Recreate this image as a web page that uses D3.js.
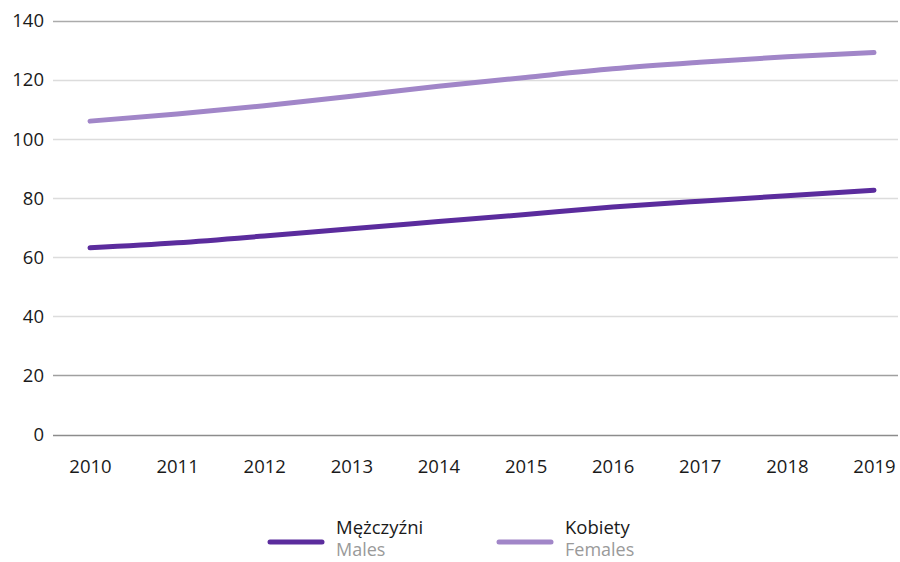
<!DOCTYPE html>
<html>
<head>
<meta charset="utf-8">
<script src="https://cdn.jsdelivr.net/npm/d3@7"></script>
<style>
  html, body { margin: 0; padding: 0; background: #fff; }
  svg { display: block; font-family: "Open Sans", "Noto Sans", sans-serif; }
</style>
</head>
<body>
<svg id="chart" width="900" height="562"></svg>
<script>
const years = ["2010","2011","2012","2013","2014","2015","2016","2017","2018","2019"];
const males = [63.2, 64.9, 67.2, 69.7, 72.1, 74.5, 77.0, 79.0, 80.8, 82.7];
const females = [106.1, 108.5, 111.3, 114.5, 117.9, 120.9, 123.8, 126.0, 127.9, 129.3];
const yTicks = [0, 20, 40, 60, 80, 100, 120, 140];
const seriesNames = ["Mężczyźni", "Kobiety"];
const seriesNamesEn = ["Males", "Females"];
const colors = ["#5b2c9d", "#a186c8"];

const svg = d3.select("#chart");
const x = d3.scalePoint().domain(years).range([90, 874]);
const y = d3.scaleLinear().domain([0, 140]).range([434.5, 21]);
const gridLeft = 53, gridRight = 898;

const gridColor = v => v === 140 ? "#ababab" : v === 20 ? "#a0a0a0" : v === 0 ? "#8c8c8c" : "#dcdcdc";

// gridlines
svg.append("g").selectAll("line").data(yTicks).join("line")
  .attr("x1", gridLeft).attr("x2", gridRight)
  .attr("y1", d => Math.round(y(d)) + 0.5).attr("y2", d => Math.round(y(d)) + 0.5)
  .attr("stroke", d => gridColor(d)).attr("stroke-width", d => d === 0 ? 1.5 : 1.3);

// y axis labels
const yAxis = d3.axisLeft(y).tickValues(yTicks).tickSize(0).tickPadding(0);
const gy = svg.append("g").attr("transform", "translate(44,0)").call(yAxis);
gy.select(".domain").remove();
gy.selectAll("text").attr("font-size", 18.5).attr("fill", "#1a1a1a")
  .attr("font-family", "'Open Sans', sans-serif");

// x axis labels
const xAxis = d3.axisBottom(x).tickSize(0).tickPadding(0);
const gx = svg.append("g").attr("transform", "translate(0,460)").call(xAxis);
gx.select(".domain").remove();
gx.selectAll("text").attr("font-size", 18.5).attr("fill", "#1a1a1a")
  .attr("font-family", "'Open Sans', sans-serif");

// lines
const line = d3.line().x((d, i) => x(years[i])).y(d => y(d)).curve(d3.curveMonotoneX);
[females, males].forEach((data, k) => {
  const idx = k === 0 ? 1 : 0;
  svg.append("path").datum(data)
    .attr("d", line)
    .attr("fill", "none")
    .attr("stroke", colors[idx])
    .attr("stroke-width", 5)
    .attr("stroke-linecap", "round")
    .attr("stroke-linejoin", "round");
});

// legend
const legendX = [270, 499];
const lg = svg.append("g");
seriesNames.forEach((name, i) => {
  const g = lg.append("g").attr("transform", `translate(${legendX[i]},0)`);
  g.append("line").attr("x1", 0).attr("x2", 52).attr("y1", 542).attr("y2", 542)
    .attr("stroke", colors[i]).attr("stroke-width", 5).attr("stroke-linecap", "round");
  g.append("text").attr("x", 66).attr("y", 534).attr("font-size", 18.5)
    .attr("fill", "#1a1a1a").text(name);
  g.append("text").attr("x", 66).attr("y", 556).attr("font-size", 18)
    .attr("fill", "#9a9a9a").text(seriesNamesEn[i]);
});
</script>
</body>
</html>
